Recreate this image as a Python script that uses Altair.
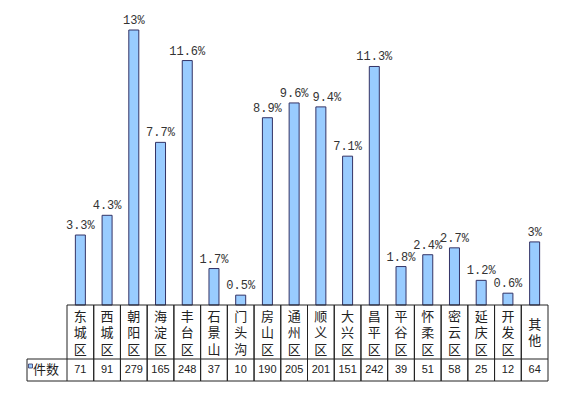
import altair as alt
import pandas as pd

categories = ["东城区", "西城区", "朝阳区", "海淀区", "丰台区", "石景山", "门头沟", "房山区", "通州区",
              "顺义区", "大兴区", "昌平区", "平谷区", "怀柔区", "密云区", "延庆区", "开发区", "其他"]
counts = [71, 91, 279, 165, 248, 37, 10, 190, 205, 201, 151, 242, 39, 51, 58, 25, 12, 64]
pct_labels = ["3.3%", "4.3%", "13%", "7.7%", "11.6%", "1.7%", "0.5%", "8.9%", "9.6%",
              "9.4%", "7.1%", "11.3%", "1.8%", "2.4%", "2.7%", "1.2%", "0.6%", "3%"]
row_header = "件数"

df = pd.DataFrame({"cat": categories, "count": counts, "pct": pct_labels})
one = pd.DataFrame({"label": [row_header]})

W = 481
H = 371
BASE_Y = 295      # plot y of bar baseline / table top
MID_Y = 349       # line between name row and count row
BOT_Y = 371       # table bottom
HEAD_X = -40      # left edge of row-header cell
NAME_Y = 323      # centre of name row
LINE_H = 16.5

FILL = "#99CCFF"
EDGE = "#333366"
LINE = "#222222"

xscale = alt.Scale(domain=categories, paddingInner=0, paddingOuter=0)


def xenc(bp=None):
    if bp is None:
        return alt.X("cat:N", scale=xscale, axis=None, sort=categories)
    return alt.X("cat:N", scale=xscale, axis=None, sort=categories, bandPosition=bp)


yenc = alt.Y("count:Q", scale=alt.Scale(range=[BASE_Y, 20], nice=False, zero=True), axis=None)

base = alt.Chart(df)

bars = base.mark_bar(size=10, fill=FILL, stroke=EDGE, strokeWidth=1).encode(x=xenc(), y=yenc)

labels = base.transform_filter(alt.datum.cat != "顺义区").mark_text(
    font="Liberation Mono", fontSize=12, color="#333333", baseline="alphabetic", dy=-6
).encode(x=xenc(), y=yenc, text="pct:N")
labels_shift = base.transform_filter(alt.datum.cat == "顺义区").mark_text(
    font="Liberation Mono", fontSize=12, color="#333333", baseline="alphabetic", dy=-6, dx=6
).encode(x=xenc(), y=yenc, text="pct:N")

bar_layer = alt.layer(bars, labels, labels_shift)

names = base.transform_calculate(ch="split(datum.cat, '')").transform_flatten(
    ["ch"]
).transform_window(idx="row_number()", groupby=["cat"]).transform_joinaggregate(
    n="count()", groupby=["cat"]
).transform_calculate(pos="datum.idx - (datum.n + 1) / 2").mark_text(
    font="Noto Sans CJK SC", fontSize=13, baseline="middle", color="#222222"
).encode(
    x=xenc(),
    y=alt.Y("pos:Q", scale=alt.Scale(domain=[-1, 1], range=[NAME_Y - LINE_H, NAME_Y + LINE_H], nice=False,
                                     zero=False), axis=None),
    text="ch:N",
)

nums = base.mark_text(font="Liberation Sans", fontSize=11, baseline="middle", color="#222222").encode(
    x=xenc(), y=alt.value(360), text="count:Q")

vlines_l = base.mark_rule(color=LINE, strokeWidth=1).encode(
    x=xenc(0), y=alt.value(BASE_Y), y2=alt.value(BOT_Y))
vlines_r = base.mark_rule(color=LINE, strokeWidth=1).encode(
    x=xenc(1), y=alt.value(BASE_Y), y2=alt.value(BOT_Y))

single = alt.Chart(one)
h_top = single.mark_rule(color=LINE, strokeWidth=1).encode(
    x=alt.value(0), x2=alt.value(W), y=alt.value(BASE_Y))
h_mid = single.mark_rule(color=LINE, strokeWidth=1).encode(
    x=alt.value(HEAD_X), x2=alt.value(W), y=alt.value(MID_Y))
h_bot = single.mark_rule(color=LINE, strokeWidth=1).encode(
    x=alt.value(HEAD_X), x2=alt.value(W), y=alt.value(BOT_Y))
v_head = single.mark_rule(color=LINE, strokeWidth=1).encode(
    x=alt.value(HEAD_X), y=alt.value(MID_Y), y2=alt.value(BOT_Y))

sq = single.mark_point(shape="square", size=16, filled=True, fill=FILL, stroke=EDGE,
                       strokeWidth=0.8, opacity=1).encode(x=alt.value(-36.5), y=alt.value(356))
head_text = single.mark_text(font="Noto Sans CJK SC", fontSize=13, align="left", baseline="middle",
                             color="#222222").encode(x=alt.value(-34), y=alt.value(360), text="label:N")

chart = alt.layer(
    bar_layer, vlines_l, vlines_r, h_top, h_mid, h_bot, v_head, names, nums, sq, head_text
).resolve_scale(y="independent").properties(
    width=W, height=H,
    background="white",
    autosize=alt.AutoSizeParams(type="none"),
    padding={"left": 59, "top": 2, "right": 20, "bottom": 5},
).configure_view(stroke=None)

chart.save("out.html", embed_options={"renderer": "svg", "actions": False})
